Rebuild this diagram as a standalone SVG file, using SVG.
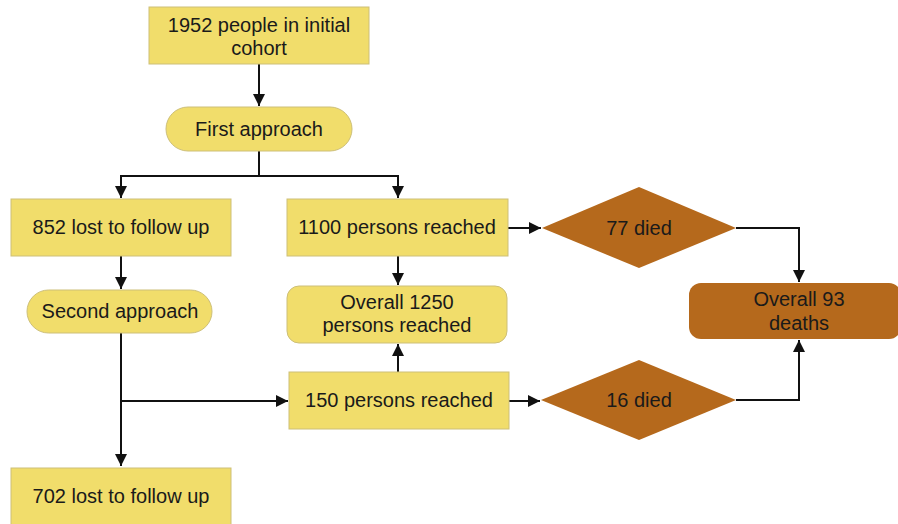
<svg xmlns="http://www.w3.org/2000/svg" width="898" height="524" viewBox="0 0 898 524">
<defs>
<marker id="ah" viewBox="0 0 12 12" refX="12" refY="6" markerWidth="12" markerHeight="12" markerUnits="userSpaceOnUse" orient="auto">
<path d="M0,0 L12,6 L0,12 z" fill="#111"/>
</marker>
<style>
.y{fill:#f1dd6b;stroke:#cdbf78;stroke-width:1}
.b{fill:#b5691c;stroke:none}
.t{font-family:"Liberation Sans",Arial,sans-serif;font-size:20px;fill:#1a1a1a;text-anchor:middle}
.c{fill:none;stroke:#111;stroke-width:2}
</style>
</defs>
<rect width="898" height="524" fill="#fff"/>
<g id="connectors">
<path class="c" d="M259,64 V106" marker-end="url(#ah)"/>
<path class="c" d="M259,151 V176 H121 V198" marker-end="url(#ah)"/>
<path class="c" d="M259,176 H398 V198" marker-end="url(#ah)"/>
<path class="c" d="M121,256 V289" marker-end="url(#ah)"/>
<path class="c" d="M121,333 V466" marker-end="url(#ah)"/>
<path class="c" d="M121,401 H288" marker-end="url(#ah)"/>
<path class="c" d="M398,256 V285" marker-end="url(#ah)"/>
<path class="c" d="M398,372 V344" marker-end="url(#ah)"/>
<path class="c" d="M508,228 H541" marker-end="url(#ah)"/>
<path class="c" d="M509,401 H540" marker-end="url(#ah)"/>
<path class="c" d="M736,228 H799 V282" marker-end="url(#ah)"/>
<path class="c" d="M736,400 H799 V340" marker-end="url(#ah)"/>
</g>
<g id="n1952"><rect class="y" x="149" y="7" width="220" height="57"/><text class="t" x="259" y="32">1952 people in initial</text><text class="t" x="259" y="55">cohort</text></g>
<g id="nFirst"><rect class="y" x="166" y="107" width="186" height="44" rx="22"/><text class="t" x="259" y="136">First approach</text></g>
<g id="n852"><rect class="y" x="11" y="199" width="220" height="57"/><text class="t" x="121" y="234">852 lost to follow up</text></g>
<g id="n1100"><rect class="y" x="287" y="199" width="221" height="57"/><text class="t" x="397" y="234">1100 persons reached</text></g>
<g id="nSecond"><rect class="y" x="27" y="290" width="185" height="43" rx="21.5"/><text class="t" x="120" y="318">Second approach</text></g>
<g id="n1250"><rect class="y" x="287" y="286" width="220" height="57" rx="12"/><text class="t" x="397" y="309">Overall 1250</text><text class="t" x="397" y="332">persons reached</text></g>
<g id="n150"><rect class="y" x="289" y="372" width="220" height="57"/><text class="t" x="399" y="407">150 persons reached</text></g>
<g id="n702"><rect class="y" x="11" y="468" width="220" height="60"/><text class="t" x="121" y="503">702 lost to follow up</text></g>
<g id="n77"><polygon class="b" points="542,228 639,187 736,228 639,268"/><text class="t" x="639" y="235">77 died</text></g>
<g id="n16"><polygon class="b" points="541,400 639,360 736,400 639,440"/><text class="t" x="639" y="407">16 died</text></g>
<g id="n93"><rect class="b" x="689" y="283" width="212" height="56" rx="12"/><text class="t" x="799" y="306">Overall 93</text><text class="t" x="799" y="330">deaths</text></g>
</svg>
